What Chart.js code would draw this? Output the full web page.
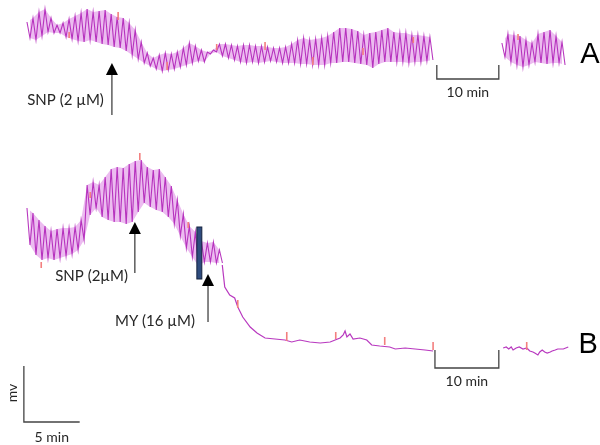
<!DOCTYPE html>
<html>
<head>
<meta charset="utf-8">
<script src="https://cdn.jsdelivr.net/npm/chart.js@4.4.0/dist/chart.umd.min.js"></script>
<style>
  html, body { margin: 0; padding: 0; background: #fff; }
  #wrap { width: 600px; height: 445px; }
</style>
</head>
<body>
<div id="wrap"><canvas id="trace" width="600" height="445"></canvas></div>
<script>
// time in minutes from start of recording, tension in mV (arbitrary offset per trace)
const CYCLE_MIN = 0.97;

// Trace A, first part: peak and trough of each contraction
const aPeaks = [42.3, 42.7, 43.3, 43.6, 42.7, 42.0, 42.2, 42.6, 42.9, 43.2, 43.6, 43.3, 43.4, 43.5, 43.1, 42.8, 42.7,
  42.2, 41.5, 40.3, 39.2, 38.7, 39.0, 39.2, 39.1, 39.3, 39.7, 40.2, 39.9, 39.5, 39.3, 39.5, 40.1, 40.1, 40.0,
  39.9, 40.0, 40.0, 39.9, 39.9, 39.8, 39.7, 39.7, 39.8, 40.1, 40.5, 40.7, 40.5, 40.6, 40.7, 40.9, 41.3, 41.7,
  41.7, 41.6, 41.4, 41.0, 41.2, 41.3, 41.5, 41.7, 41.3, 41.2, 41.2, 41.0, 41.0, 40.9, 40.8];
const aTroughs = [40.7, 40.5, 40.9, 41.3, 41.2, 41.2, 40.8, 40.6, 40.4, 40.3, 40.5, 40.3, 40.1, 40.0, 39.8, 39.7, 39.4,
  39.0, 38.6, 38.2, 37.9, 37.6, 37.4, 37.5, 37.6, 37.8, 38.0, 38.2, 38.4, 38.3, 39.1, 39.3, 38.9, 38.7, 38.5,
  38.3, 38.2, 38.3, 38.2, 38.3, 38.4, 38.3, 38.2, 38.2, 38.2, 38.1, 38.1, 38.0, 38.0, 38.0, 38.2, 38.2, 38.3,
  38.3, 38.2, 38.1, 38.0, 37.7, 38.1, 38.3, 38.3, 38.3, 38.3, 38.2, 38.3, 38.3, 38.4, 38.5];

// Trace A, after the 10 min break
const a2Start = 76.6;
const a2Peaks = [40.2, 41.1, 41.0, 40.9, 40.5, 40.2, 41.1, 41.3, 41.5, 40.9, 40.3];
const a2Troughs = [38.8, 38.3, 38.0, 37.8, 38.0, 38.3, 38.2, 38.1, 38.2, 38.2, 38.0];

// Trace B, contractions before MY
const bPeaks = [23.7, 23.2, 22.5, 21.9, 21.4, 21.6, 21.7, 21.7, 21.8, 22.5, 26.0, 26.3, 26.0, 26.8, 27.6, 27.8, 27.7,
  28.1, 28.4, 28.5, 27.8, 27.5, 27.6, 26.8, 25.9, 24.5, 23.1, 21.9, 21.3, 20.4, 20.2, 20.3, 19.5];
const bTroughs = [20.0, 19.0, 18.5, 18.7, 18.5, 18.7, 18.9, 19.1, 19.5, 20.5, 23.0, 23.7, 22.8, 22.5, 22.3, 22.3, 22.1,
  22.3, 23.3, 24.2, 23.8, 23.5, 23.3, 22.8, 22.1, 20.9, 19.7, 18.8, 17.9, 18.3, 18.3, 18.2, 18.2];

// Trace B, relaxation after MY
const bDecayTime = [31.5, 31.9, 32.7, 33.5, 34.0, 34.8, 36.0, 37.1, 38.4, 40.0, 41.6, 42.7, 44.0, 45.6, 47.3, 48.9,
  49.7, 50.5, 51.0, 51.3, 51.6, 52.1, 52.6, 53.7, 54.8, 55.6, 56.9, 58.5, 59.4, 61.0, 62.6, 64.2, 65.5];
const bDecayValue = [18.0, 15.8, 15.0, 14.7, 13.8, 12.8, 11.8, 11.2, 10.7, 10.6, 10.5, 10.3, 10.5, 10.3, 10.2, 10.3,
  10.5, 10.7, 11.0, 11.4, 10.8, 11.1, 10.6, 10.7, 10.5, 10.0, 9.9, 9.8, 9.6, 9.7, 9.6, 9.5, 9.4];

// Trace B, after the 10 min break
const b2Time = [76.8, 77.3, 77.7, 78.1, 78.4, 78.9, 79.4, 80.0, 80.6, 81.1, 81.6, 81.9, 82.4, 82.7, 83.1, 83.5,
  83.9, 84.4, 84.7, 85.2, 85.6, 86.5, 87.3];
const b2Value = [9.7, 9.8, 9.6, 9.8, 9.5, 9.7, 9.8, 9.6, 9.7, 9.4, 9.3, 9.2, 9.0, 9.3, 9.5, 9.3, 9.2, 9.3, 9.4,
  9.5, 9.6, 9.6, 9.8];

// event marks on the recorder: [time, top, bottom]
const marks = [
  [6.8, 41.3, 40.7], [14.7, 43.3, 42.5], [22.6, 38.3, 37.5], [30.6, 40.1, 39.5], [38.4, 40.3, 39.5],
  [46.1, 38.8, 38.0], [54.2, 39.7, 39.0], [62.3, 40.8, 40.2], [79.2, 41.1, 40.5],
  [2.3, 18.3, 17.7], [10.2, 25.3, 24.7], [18.2, 29.2, 28.5], [26.0, 22.3, 21.7], [34.0, 14.5, 13.7],
  [41.9, 11.3, 10.4], [49.8, 11.3, 10.6], [57.7, 10.8, 10.0], [65.5, 10.3, 9.5], [80.6, 10.3, 9.5]
];

// drug additions: [time, tail, head, label, label end time, label level]
const drugs = [
  [13.7, 33.0, 38.2, 'SNP (2 µM)', 12.4, 34.5],
  [17.4, 17.2, 22.3, 'SNP (2µM)', 16.3, 16.9],
  [29.2, 12.3, 17.1, 'MY (16 µM)', 27.1, 12.4]
];

function zigzag(start, peaks, troughs) {
  const pts = [];
  peaks.forEach((p, i) => {
    pts.push({ x: start + i * CYCLE_MIN, y: p });
    pts.push({ x: start + i * CYCLE_MIN + CYCLE_MIN / 2, y: troughs[i] });
  });
  return pts;
}
function band(start, vals, offset) {
  return vals.map((v, i) => ({ x: start + i * CYCLE_MIN + offset, y: v }));
}
function pairs(ts, vs) {
  return ts.map((t, i) => ({ x: t, y: vs[i] }));
}

const markPts = [];
marks.forEach(m => {
  markPts.push({ x: m[0], y: m[1] }, { x: m[0], y: m[2] }, { x: m[0], y: null });
});

const dark = 'rgba(176, 34, 184, 0.9)';
const light = '#ecbcf0';

// band datasets get a high order so they are painted underneath the strokes
const datasets = [];
[[0, aPeaks, aTroughs], [a2Start, a2Peaks, a2Troughs], [0, bPeaks, bTroughs]].forEach(s => {
  datasets.push({ data: band(s[0], s[1], 0), borderWidth: 0, fill: '+1', backgroundColor: light, order: 5 });
  datasets.push({ data: band(s[0], s[2], CYCLE_MIN / 2), borderWidth: 0, fill: false, order: 5 });
  datasets.push({ data: zigzag(s[0], s[1], s[2]), borderColor: dark, borderWidth: 1.1, fill: false, order: 2 });
});
datasets.push({ data: pairs(bDecayTime, bDecayValue), borderColor: dark, borderWidth: 1.2, fill: false, order: 2 });
datasets.push({ data: pairs(b2Time, b2Value), borderColor: dark, borderWidth: 1.2, fill: false, order: 2 });
datasets.push({ data: markPts, borderColor: '#f37f7f', borderWidth: 1.6, fill: false, spanGaps: false, order: 1 });

// arrows, labels, scale bars
const decorations = {
  id: 'decorations',
  afterDatasetsDraw(chart) {
    const { ctx, scales: { x, y } } = chart;
    const X = v => x.getPixelForValue(v), Y = v => y.getPixelForValue(v);
    ctx.save();

    // MY application bar
    ctx.fillStyle = '#2f4c7e';
    ctx.strokeStyle = '#15233f';
    ctx.lineWidth = 1;
    ctx.fillRect(X(27.4), Y(21.8), X(28.2) - X(27.4), Y(16.6) - Y(21.8));
    ctx.strokeRect(X(27.4), Y(21.8), X(28.2) - X(27.4), Y(16.6) - Y(21.8));

    ctx.font = '15px Lato, sans-serif';
    ctx.textBaseline = 'middle';
    drugs.forEach(d => {
      const px = X(d[0]), tail = Y(d[1]), head = Y(d[2]);
      ctx.strokeStyle = '#333';
      ctx.lineWidth = 1.2;
      ctx.beginPath();
      ctx.moveTo(px, tail);
      ctx.lineTo(px, head + 10);
      ctx.stroke();
      ctx.fillStyle = '#000';
      ctx.beginPath();
      ctx.moveTo(px, head);
      ctx.lineTo(px - 6, head + 12);
      ctx.lineTo(px + 6, head + 12);
      ctx.closePath();
      ctx.fill();
      ctx.fillStyle = '#262626';
      ctx.textAlign = 'right';
      ctx.fillText(d[3], X(d[4]), Y(d[5]));
    });

    // 10 min scale bars in the breaks
    ctx.strokeStyle = '#444';
    ctx.lineWidth = 1.3;
    [[66.1, 76.1, 38.0, 36.6], [65.8, 76.1, 9.5, 7.7]].forEach(b => {
      ctx.beginPath();
      ctx.moveTo(X(b[0]), Y(b[2]));
      ctx.lineTo(X(b[0]), Y(b[3]));
      ctx.lineTo(X(b[1]), Y(b[3]));
      ctx.lineTo(X(b[1]), Y(b[2]));
      ctx.stroke();
      ctx.fillStyle = '#262626';
      ctx.textAlign = 'center';
      ctx.font = '14px Lato, sans-serif';
      ctx.fillText('10 min', (X(b[0]) + X(b[1])) / 2, Y(b[3]) + 13);
    });

    // calibration
    ctx.beginPath();
    ctx.moveTo(X(-0.5), Y(7.9));
    ctx.lineTo(X(-0.5), Y(2.3));
    ctx.lineTo(X(8.5), Y(2.3));
    ctx.stroke();
    ctx.fillText('5 min', X(4.0), Y(2.3) + 15);
    ctx.save();
    ctx.translate(X(-2.4), Y(5.2));
    ctx.rotate(-Math.PI / 2);
    ctx.fillText('mv', 0, 0);
    ctx.restore();

    // panel letters
    ctx.fillStyle = '#000';
    ctx.font = '29px "Liberation Sans", Arial, sans-serif';
    ctx.fillText('A', X(90.8), Y(39.0));
    ctx.fillText('B', X(90.5), Y(10.0));
    ctx.restore();
  }
};

new Chart(document.getElementById('trace'), {
  type: 'line',
  data: { datasets },
  options: {
    responsive: false,
    animation: false,
    events: [],
    layout: { padding: 0 },
    elements: { point: { radius: 0 }, line: { tension: 0 } },
    plugins: { legend: { display: false }, tooltip: { enabled: false } },
    scales: {
      x: { type: 'linear', min: -4.35, max: 92.42, display: false },
      y: { min: 0, max: 44.5, display: false }
    }
  },
  plugins: [decorations]
});
</script>
</body>
</html>
